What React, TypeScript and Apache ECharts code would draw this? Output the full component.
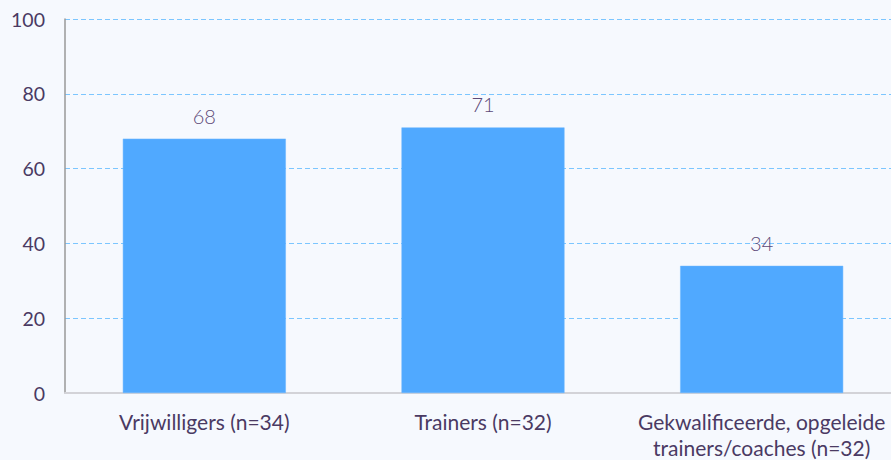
import React, { useEffect, useRef } from "react";
import * as echarts from "echarts";

const categories = [
  "Vrijwilligers (n=34)",
  "Trainers (n=32)",
  "Gekwalificeerde, opgeleide\ntrainers/coaches (n=32)",
];
const values = [68, 71, 34];
const yTicks = { min: 0, max: 100, interval: 20 };

export default function App() {
  const ref = useRef<HTMLDivElement>(null);
  useEffect(() => {
    if (!ref.current) return;
    const chart = echarts.init(ref.current, null, { renderer: "svg" });
    chart.setOption({
      animation: false,
      backgroundColor: "#F6F9FE",
      textStyle: { fontFamily: "Lato" },
      grid: { left: 65, right: 0, top: 19, bottom: 67, containLabel: false },
      xAxis: {
        type: "category",
        data: categories,
        axisLine: { show: true, lineStyle: { color: "#D3D3D8", width: 2 } },
        axisTick: { show: false },
        axisLabel: {
          interval: 0,
          margin: 15,
          formatter: (v: string) =>
            v
              .split("\n")
              .map((s) => "{a|" + s + "}")
              .join("\n"),
          rich: {
            a: {
              color: "#4A3A63",
              fontSize: 21,
              fontFamily: "Lato",
              lineHeight: 26,
            },
          },
        },
      },
      yAxis: {
        type: "value",
        min: yTicks.min,
        max: yTicks.max,
        interval: yTicks.interval,
        axisLine: { show: true, lineStyle: { color: "#999999", width: 1.5 } },
        axisTick: { show: false },
        axisLabel: {
          color: "#4A3A63",
          fontSize: 19.5,
          fontFamily: "Lato",
          margin: 20,
        },
        splitLine: {
          show: true,
          lineStyle: { color: "#7CC6FF", type: [5, 3], width: 1 },
        },
      },
      series: [
        {
          type: "bar",
          data: values,
          barWidth: "58.5%",
          itemStyle: { color: "#50A9FF", borderColor: "#6BB7FF", borderWidth: 0.5 },
          label: {
            show: true,
            position: "top",
            distance: 13,
            color: "#5D4A78",
            fontSize: 20,
            fontFamily: "Lato",
            fontWeight: 300,
          },
        },
      ],
    });
    return () => chart.dispose();
  }, []);
  return (
    <div style={{ position: "fixed", left: 0, top: 0, width: 891, height: 460, overflow: "hidden" }}>
      <div ref={ref} style={{ width: 901, height: 460 }} />
    </div>
  );
}
